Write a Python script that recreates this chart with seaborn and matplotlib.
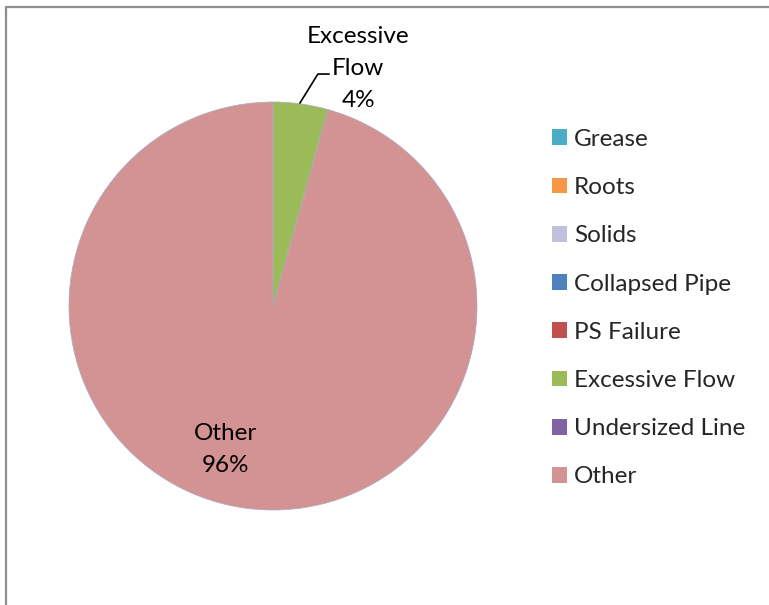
import matplotlib
matplotlib.use("Agg")
import matplotlib.pyplot as plt
from matplotlib.lines import Line2D
from matplotlib.patches import Patch
import seaborn as sns

# Overflow causes and event counts
causes = ["Grease", "Roots", "Solids", "Collapsed Pipe", "PS Failure",
          "Excessive Flow", "Undersized Line", "Other"]
counts = [0, 0, 0, 0, 0, 1, 0, 22]
cause_colors = ["#4BACC6", "#F79646", "#C0C1DA", "#4F81BD", "#C0504D",
                "#9BBB59", "#8064A2", "#D39392"]

sns.set_theme(style="white")
plt.rcParams["font.family"] = ["Lato", "DejaVu Sans"]

fig = plt.figure(figsize=(7.69, 6.05), dpi=100)
ax = fig.add_axes([0.0897, 0.157, 0.5306, 0.6744])

# only non-zero causes get a wedge; the legend lists all of them
shown = [(c, v, col) for c, v, col in zip(causes, counts, cause_colors) if v > 0]
vals = [v for _, v, _ in shown]
wedges, _ = ax.pie(vals, colors=[col for _, _, col in shown], startangle=90,
                   counterclock=False, radius=1.0,
                   wedgeprops=dict(linewidth=0.5, edgecolor="#A9ABC4"))
ax.set_xlim(-1, 1)
ax.set_ylim(-1, 1)
ax.set_aspect("equal")
ax.axis("off")

total = sum(counts)
label_pos = {"Excessive Flow": (0.417, 1.165), "Other": (-0.235, -0.705)}
label_text = {"Excessive Flow": "Excessive\nFlow", "Other": "Other"}
for name, v, _ in shown:
    x, y = label_pos[name]
    ax.text(x, y, f"{label_text[name]}\n{round(100 * v / total)}%",
            ha="center", va="center", fontsize=17.5, linespacing=1.65,
            color="black", clip_on=False)

# leader line for the small wedge
ax.add_line(Line2D([0.132, 0.22, 0.275], [0.995, 1.137, 1.137],
                   color="black", lw=1.2, clip_on=False))

handles = [Patch(facecolor=col, edgecolor="none") for col in cause_colors]
fig.legend(handles, causes, loc="upper left", bbox_to_anchor=(0.705, 0.803),
           frameon=False, fontsize=17.5, handlelength=0.62, handleheight=0.62,
           handletextpad=0.28, labelspacing=1.12, borderaxespad=0)

# chart area frame (left and top edges)
frame_kw = dict(color="#8E8E8E", lw=1.6, transform=fig.transFigure)
fig.add_artist(Line2D([5.5 / 769, 5.5 / 769], [0, 1 - 6.5 / 605], **frame_kw))
fig.add_artist(Line2D([5.5 / 769, 1], [1 - 6.5 / 605, 1 - 6.5 / 605], **frame_kw))

fig.savefig("out.png", dpi=100, facecolor="white")
